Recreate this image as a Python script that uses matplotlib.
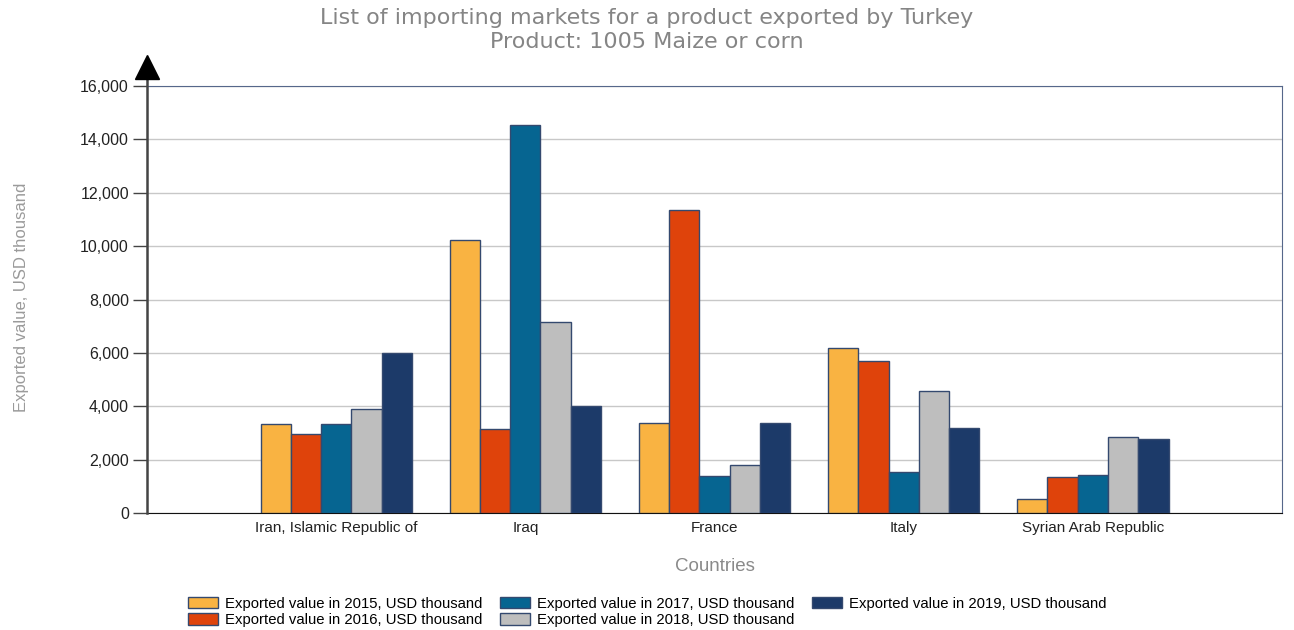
import numpy as np
import matplotlib
matplotlib.use("Agg")
import matplotlib.pyplot as plt
from matplotlib.ticker import FuncFormatter

# data (USD thousand)
countries = ["Iran, Islamic Republic of", "Iraq", "France", "Italy", "Syrian Arab Republic"]
years = ["2015", "2016", "2017", "2018", "2019"]
v2015 = [3320, 10230, 3360, 6170, 520]
v2016 = [2960, 3140, 11350, 5710, 1340]
v2017 = [3330, 14550, 1390, 1540, 1420]
v2018 = [3910, 7160, 1790, 4580, 2860]
v2019 = [5980, 4010, 3380, 3170, 2760]
series = [v2015, v2016, v2017, v2018, v2019]
colors = ["#F9B342", "#DF430B", "#066591", "#BEBEBE", "#1C3A69"]

TXT = "Liberation Sans"
fig = plt.figure(figsize=(12.94, 6.30), dpi=100)
ax = fig.add_axes([147 / 1294, 1 - 513 / 630, 1135 / 1294, 427 / 630])

x = np.arange(1, len(countries) + 1)
w = 0.16
for i, (vals, c, yr) in enumerate(zip(series, colors, years)):
    ax.bar(x + (i - 2) * w, vals, width=w, color=c, edgecolor="#34496F", lw=1.0,
           label=f"Exported value in {yr}, USD thousand", zorder=3)

ax.set_xlim(0, 6)
ax.set_ylim(0, 16000)
ax.set_yticks(np.arange(0, 16001, 2000))
ax.yaxis.set_major_formatter(FuncFormatter(lambda v, p: f"{int(v):,}"))
ax.set_xticks(x)
ax.set_xticklabels(countries, fontsize=11, family=TXT, color="#222")
ax.tick_params(axis="x", length=0, pad=6)
ax.tick_params(axis="y", length=10, width=1, color="#444", labelsize=11.5,
               labelcolor="#222", pad=3)
for lab in ax.get_yticklabels():
    lab.set_family(TXT)
ax.grid(axis="y", color="#C8C8C8", lw=1, zorder=0)

ax.spines["top"].set_color("#56678A")
ax.spines["right"].set_color("#56678A")
ax.spines["bottom"].set_color("#111")
ax.spines["left"].set_visible(False)
# left axis line running up to the arrow head
ax.plot([0, 0], [0, 1.02], transform=ax.transAxes, color="#444", lw=1.8,
        clip_on=False, zorder=5)
ax.plot([0], [1.045], transform=ax.transAxes, marker="^", color="black",
        markersize=17, clip_on=False, zorder=6)

ax.set_ylabel("Exported value, USD thousand", fontsize=12, family=TXT,
              color="#9A9A9A")
ax.yaxis.set_label_coords(-0.104, 0.505)
ax.set_xlabel("Countries", fontsize=13.5, family=TXT, color="#8A8A8A", labelpad=16)

fig.text(0.5, 1 - 18 / 630, "List of importing markets for a product exported by Turkey",
         ha="center", va="center", fontsize=16, color="#858585")
fig.text(0.5, 1 - 42 / 630, "Product: 1005 Maize or corn",
         ha="center", va="center", fontsize=16, color="#858585")

leg = fig.legend(loc="center", bbox_to_anchor=(0.5, 1 - 612 / 630), ncol=3,
                 frameon=False, prop={"family": TXT, "size": 10.7},
                 handlelength=2.0, handleheight=0.8, handletextpad=0.47,
                 columnspacing=1.2, labelspacing=0.15, borderpad=0)

fig.savefig("out.png", dpi=100)
